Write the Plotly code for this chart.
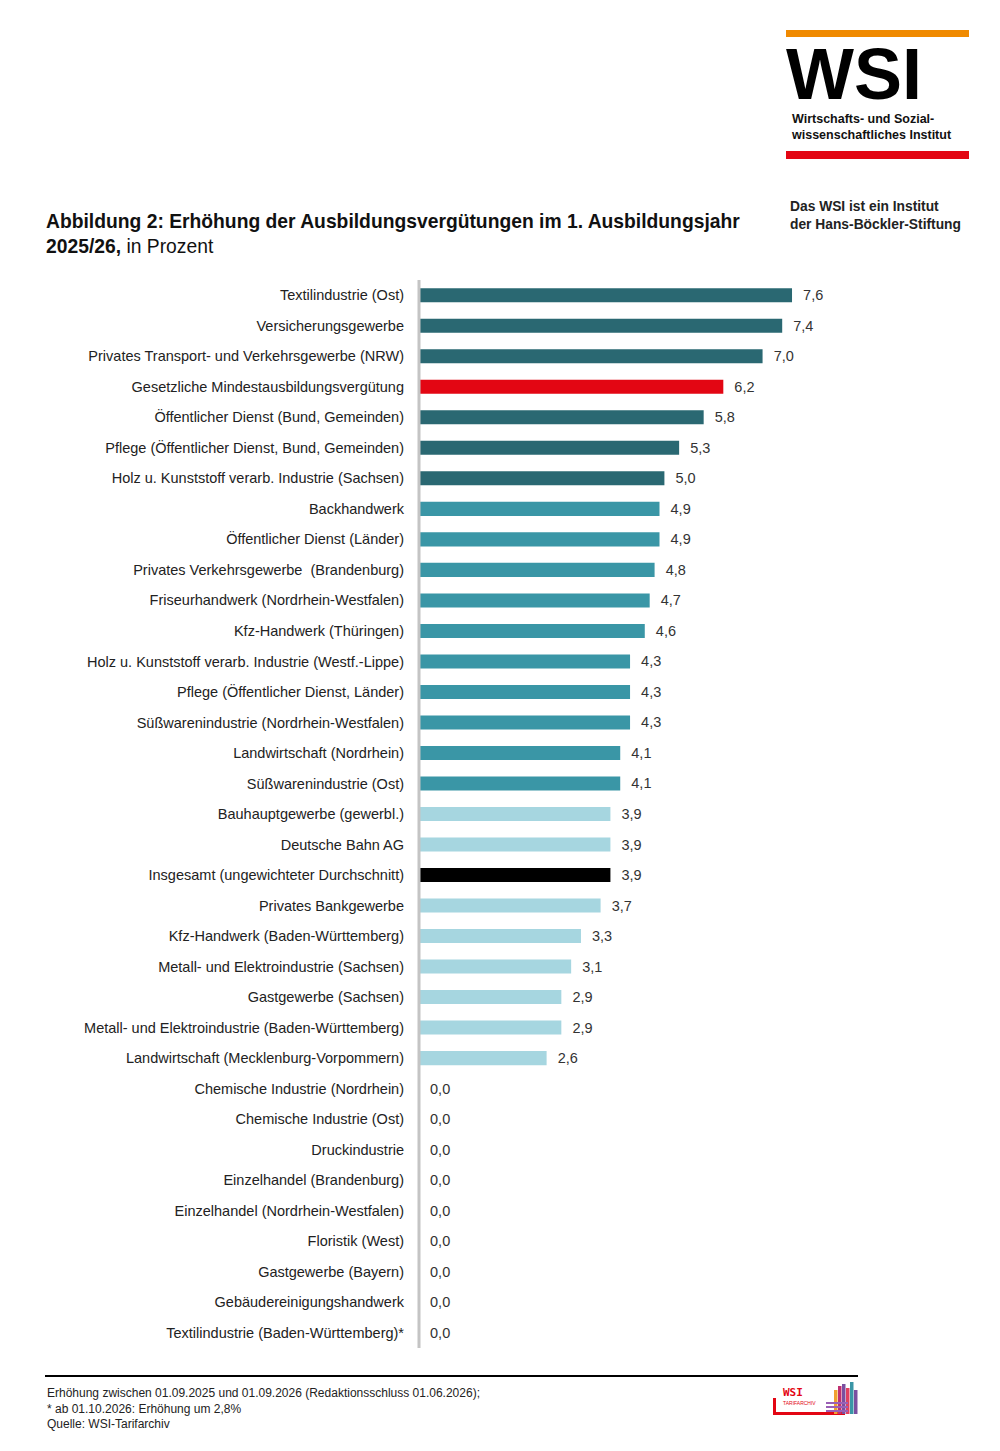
import plotly.graph_objects as go

# Werte aus der Abbildung (Prozent), von oben nach unten
branchen = [
    "Textilindustrie (Ost)",
    "Versicherungsgewerbe",
    "Privates Transport- und Verkehrsgewerbe (NRW)",
    "Gesetzliche Mindestausbildungsvergütung",
    "Öffentlicher Dienst (Bund, Gemeinden)",
    "Pflege (Öffentlicher Dienst, Bund, Gemeinden)",
    "Holz u. Kunststoff verarb. Industrie (Sachsen)",
    "Backhandwerk",
    "Öffentlicher Dienst (Länder)",
    "Privates Verkehrsgewerbe  (Brandenburg)",
    "Friseurhandwerk (Nordrhein-Westfalen)",
    "Kfz-Handwerk (Thüringen)",
    "Holz u. Kunststoff verarb. Industrie (Westf.-Lippe)",
    "Pflege (Öffentlicher Dienst, Länder)",
    "Süßwarenindustrie (Nordrhein-Westfalen)",
    "Landwirtschaft (Nordrhein)",
    "Süßwarenindustrie (Ost)",
    "Bauhauptgewerbe (gewerbl.)",
    "Deutsche Bahn AG",
    "Insgesamt (ungewichteter Durchschnitt)",
    "Privates Bankgewerbe",
    "Kfz-Handwerk (Baden-Württemberg)",
    "Metall- und Elektroindustrie (Sachsen)",
    "Gastgewerbe (Sachsen)",
    "Metall- und Elektroindustrie (Baden-Württemberg)",
    "Landwirtschaft (Mecklenburg-Vorpommern)",
    "Chemische Industrie (Nordrhein)",
    "Chemische Industrie (Ost)",
    "Druckindustrie",
    "Einzelhandel (Brandenburg)",
    "Einzelhandel (Nordrhein-Westfalen)",
    "Floristik (West)",
    "Gastgewerbe (Bayern)",
    "Gebäudereinigungshandwerk",
    "Textilindustrie (Baden-Württemberg)*",
]
erhoehung = [7.6, 7.4, 7.0, 6.2, 5.8, 5.3, 5.0, 4.9, 4.9, 4.8, 4.7, 4.6, 4.3, 4.3,
             4.3, 4.1, 4.1, 3.9, 3.9, 3.9, 3.7, 3.3, 3.1, 2.9, 2.9, 2.6,
             0.0, 0.0, 0.0, 0.0, 0.0, 0.0, 0.0, 0.0, 0.0]

DUNKEL = "#2a6872"
MITTEL = "#3a96a6"
HELL = "#a6d6e0"
ROT = "#e30613"

farben = []
for name, v in zip(branchen, erhoehung):
    if name.startswith("Gesetzliche"):
        farben.append(ROT)
    elif name.startswith("Insgesamt"):
        farben.append("#000000")
    elif v >= 5.0:
        farben.append(DUNKEL)
    elif v >= 4.0:
        farben.append(MITTEL)
    else:
        farben.append(HELL)

labels = ["  " + f"{v:.1f}".replace(".", ",") for v in erhoehung]

FONT = "Liberation Sans Narrow, Arial Narrow, Liberation Sans, Arial, sans-serif"
SANS = "Liberation Sans, Arial, sans-serif"

fig = go.Figure(go.Bar(
    x=erhoehung, y=branchen, orientation="h",
    marker=dict(color=farben, line=dict(width=0)),
    text=labels, textposition="outside", cliponaxis=False,
    constraintext="none",
    textfont=dict(family=FONT, size=14.5, color="#333333"),
    width=0.46,
))

# die Seite hat 8px Rand, daher l/t um 8 kleiner
fig.update_layout(
    width=1000, height=1451,
    margin=dict(l=411, r=108, t=272, b=111),
    plot_bgcolor="white", paper_bgcolor="white",
    showlegend=False,
    font=dict(family=FONT, size=14.5, color="#222222"),
    xaxis=dict(range=[0, 9.8], visible=False, fixedrange=True),
    yaxis=dict(autorange="reversed", showgrid=False, zeroline=False,
               ticks="", ticklabelstandoff=14,
               tickfont=dict(family=FONT, size=14.5, color="#222222")),
)


def px(x):
    return (x - 419) / 481


def py(y):
    return 1 - (y - 280) / 1068


def rect(x0, x1, y0, y1, col):
    return dict(type="rect", xref="paper", yref="paper", x0=px(x0), x1=px(x1),
                y0=py(y1), y1=py(y0), fillcolor=col, line=dict(width=0))


shapes = [
    # y-Achsenlinie
    dict(type="line", xref="paper", yref="paper", x0=0, x1=0, y0=0, y1=1,
         line=dict(color="#c4c4c4", width=3)),
    # Logo-Balken
    rect(786, 969, 30, 37, "#f08a00"),
    rect(786, 969, 151, 159, ROT),
    # Fußlinie
    dict(type="line", xref="paper", yref="paper", x0=px(45), x1=px(858),
         y0=py(1376), y1=py(1376), line=dict(color="black", width=2)),
    # kleines Tarifarchiv-Logo unten rechts
    rect(773, 776, 1398, 1415, ROT),
    rect(773, 845, 1412, 1415, ROT),
]
for x0, top, col in [(834, 1390, "#f0a030"), (838, 1386, "#c03070"), (842, 1384, "#7a4fa0"),
                     (846, 1388, "#e04060"), (850, 1382, "#3a96a6"), (854, 1390, "#7a4fa0")]:
    shapes.append(rect(x0, x0 + 3.5, top, 1414, col))
for yy in (1402, 1406, 1410):
    shapes.append(rect(826, 848, yy, yy + 2, "#9a5fb5"))
fig.update_layout(shapes=shapes)

annotations = [
    dict(text="<b>Abbildung 2: Erhöhung der Ausbildungsvergütungen im 1. Ausbildungsjahr<br>2025/26,</b> in Prozent",
         x=44, y=209, align="left", font=dict(family=FONT, size=19.3, color="#111111")),
    dict(text="<b>WSI</b>", x=784, y=32, font=dict(family=SANS, size=72, color="black")),
    dict(text="<b>Wirtschafts- und Sozial-<br>wissenschaftliches Institut</b>", x=789, y=110, align="left",
         font=dict(family=SANS, size=12.5, color="#111111")),
    dict(text="<b>Das WSI ist ein Institut<br>der Hans-Böckler-Stiftung</b>", x=788, y=197, align="left",
         font=dict(family=SANS, size=13.8, color="#222222")),
    dict(text="Erhöhung zwischen 01.09.2025 und 01.09.2026 (Redaktionsschluss 01.06.2026);<br>"
              "* ab 01.10.2026: Erhöhung um 2,8%<br>Quelle: WSI-Tarifarchiv",
         x=45, y=1384, align="left", font=dict(family=FONT, size=12, color="#222222")),
    dict(text="<b>WSI</b>", x=781, y=1384, font=dict(family="DejaVu Sans Mono, monospace", size=11, color=ROT)),
    dict(text="TARIFARCHIV", x=781, y=1398, font=dict(family=FONT, size=5, color=ROT)),
]
fig.update_layout(annotations=[
    dict(a, xref="paper", yref="paper", x=px(a["x"]), y=py(a["y"]),
         xanchor="left", yanchor="top", showarrow=False)
    for a in annotations
])

fig.write_html("out.html")
